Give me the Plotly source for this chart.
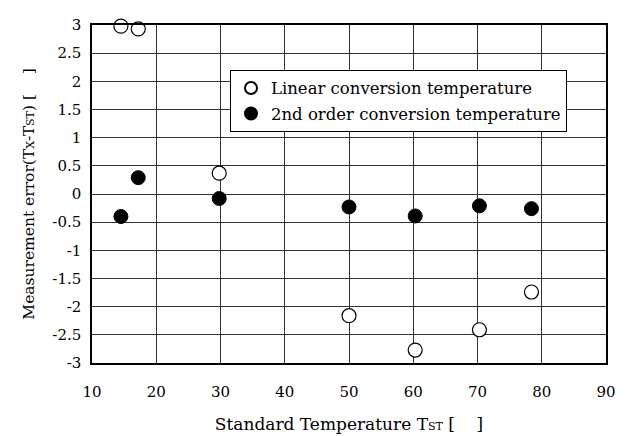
import plotly.graph_objects as go

x_linear = [14.5, 17.2, 29.8, 50.0, 60.3, 70.3, 78.4]
y_linear = [2.98, 2.93, 0.37, -2.16, -2.77, -2.41, -1.74]
x_second = [14.5, 17.2, 29.8, 50.0, 60.3, 70.3, 78.4]
y_second = [-0.40, 0.29, -0.08, -0.23, -0.39, -0.21, -0.26]
x_ticks = [10, 20, 30, 40, 50, 60, 70, 80, 90]
y_ticks = [3, 2.5, 2, 1.5, 1, 0.5, 0, -0.5, -1, -1.5, -2, -2.5, -3]
names = ["Linear conversion temperature", "2nd order conversion temperature"]

FONT = "DejaVu Serif"

fig = go.Figure()
fig.add_trace(go.Scatter(
    x=x_linear, y=y_linear, mode="markers", name=names[0], legendgroup="a",
    marker=dict(symbol="circle", size=14, color="white",
                line=dict(color="black", width=1.2)),
    cliponaxis=False))
fig.add_trace(go.Scatter(
    x=x_second, y=y_second, mode="markers", name=names[1], legendgroup="b",
    marker=dict(symbol="circle", size=14, color="black",
                line=dict(color="black", width=1)),
    cliponaxis=False))

sub = "<span style='font-size:11px'>{}</span>"
gap = "\u00a0" * 4

fig.update_layout(
    width=631, height=436,
    margin=dict(l=84, r=33, t=8, b=81),
    paper_bgcolor="white", plot_bgcolor="white",
    font=dict(family=FONT, size=15, color="black"),
    showlegend=True,
    legend=dict(x=(230 - 92) / 514, y=(363 - 62) / 347, xanchor="left", yanchor="top",
                bordercolor="black", borderwidth=1, bgcolor="white",
                font=dict(family=FONT, size=16.5, color="black"),
                itemsizing="constant", tracegroupgap=1),
    xaxis=dict(range=[10, 90], tickvals=x_ticks, ticktext=[str(v) for v in x_ticks],
               showgrid=True, gridcolor="#333333", gridwidth=1,
               showline=True, linecolor="black", linewidth=1.5, mirror=True,
               ticks="outside", ticklen=14, tickcolor="rgba(0,0,0,0)",
               zeroline=False, tickfont=dict(size=15),
               title=dict(text="Standard Temperature T" + sub.format("ST") + " [" + gap + "]",
                          font=dict(size=17), standoff=18)),
    yaxis=dict(range=[-3, 3], tickvals=y_ticks, ticktext=[str(v) for v in y_ticks],
               showgrid=True, gridcolor="#333333", gridwidth=1,
               showline=True, linecolor="black", linewidth=1.5, mirror=True,
               ticks="outside", ticklen=6, tickcolor="rgba(0,0,0,0)",
               zeroline=False, tickfont=dict(size=15),
               title=dict(text="Measurement error(T" + sub.format("X") + "-T" + sub.format("ST")
                          + ") [" + gap + "]",
                          font=dict(size=15.5), standoff=14)),
)

fig.write_html("out.html")
